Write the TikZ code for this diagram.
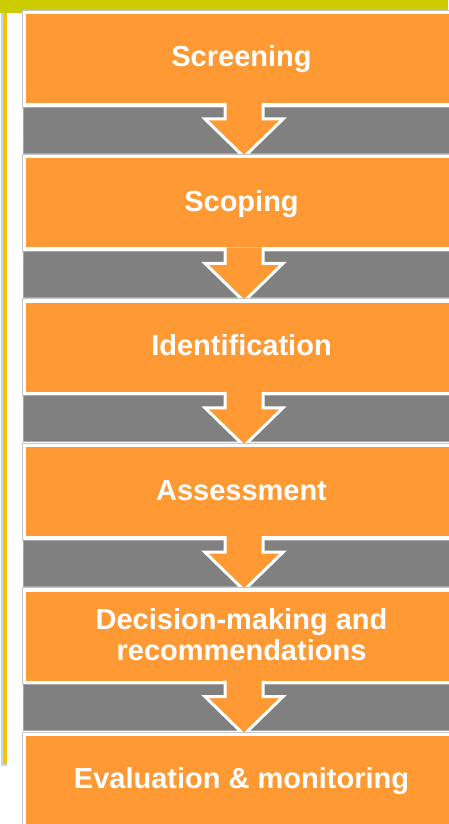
\documentclass[tikz,border=0pt]{standalone}
\usepackage{fontspec}
\setmainfont{Liberation Sans}
\definecolor{boxorange}{HTML}{FF9933}
\definecolor{bandgray}{HTML}{808080}
\definecolor{topgreen}{HTML}{CCCC00}
\definecolor{stripeyellow}{HTML}{FFC000}
\definecolor{stripeblue}{HTML}{B8DDE8}
\begin{document}
\begin{tikzpicture}[x=1pt,y=-1pt,
  frame/.style={fill=white,draw=black!22,line width=0.8pt},
  orangebox/.style={fill=boxorange},
  steptext/.style={text=white,font=\bfseries\fontsize{29}{31}\selectfont,align=center,inner sep=0pt},
  band/.style={fill=bandgray,draw=black!35,line width=0.8pt},
  arrowfill/.style={fill=boxorange},
  arrowline/.style={draw=white,line width=3pt,line join=miter}]
\useasboundingbox (0,0) rectangle (448,824);
\fill[white] (0,0) rectangle (448,824);
\fill[topgreen] (0,0) rectangle (448,13);
\fill[stripeblue] (1,13) rectangle (7,766);
\fill[stripeyellow] (3.3,13) rectangle (6.7,764);
\foreach \i/\t in {0/Screening,1/Scoping,2/Identification,3/Assessment,4/{Decision-making and\\recommendations},5/Evaluation \& monitoring}{
  \pgfmathsetmacro\yt{14+\i*144.4}
  \draw[frame] (22,\yt-4) rectangle (470,\yt+93);
  \fill[orangebox] (26,\yt) rectangle (470,\yt+89);
  \ifnum\i=4
    \node[steptext,anchor=center] (t\i) at (241.5,\yt+43.5) {\t};
  \else
    \node[steptext,anchor=base] (t\i) at (241.5,\yt+52.9) {\t};
  \fi
  \ifnum\i<5
    \draw[band] (23,\yt+93) rectangle (470,\yt+139);
    \coordinate (a\i) at (244,\yt+89);
    \fill[arrowfill] ([xshift=-19pt]a\i) -- ([xshift=-19pt,yshift=-16pt]a\i) -- ([xshift=-39pt,yshift=-16pt]a\i) -- ([yshift=-54pt]a\i) -- ([xshift=39pt,yshift=-16pt]a\i) -- ([xshift=19pt,yshift=-16pt]a\i) -- ([xshift=19pt]a\i) -- cycle;
    \draw[arrowline] ([xshift=-19pt]a\i) -- ([xshift=-19pt,yshift=-16pt]a\i) -- ([xshift=-39pt,yshift=-16pt]a\i) -- ([yshift=-54pt]a\i) -- ([xshift=39pt,yshift=-16pt]a\i) -- ([xshift=19pt,yshift=-16pt]a\i) -- ([xshift=19pt]a\i);
  \fi
}
\end{tikzpicture}
\end{document}
